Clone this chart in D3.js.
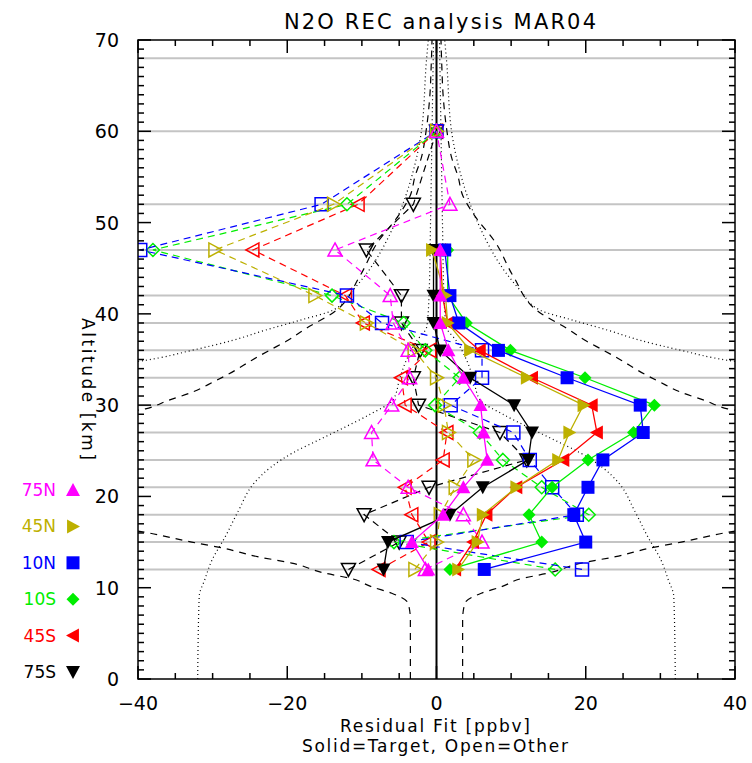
<!DOCTYPE html>
<html>
<head>
<meta charset="utf-8">
<script src="https://cdn.jsdelivr.net/npm/d3@7"></script>
<style>
  body { margin: 0; background: #fff; }
  svg text { font-family: "DejaVu Sans", sans-serif; fill: #000; }
</style>
</head>
<body>
<svg id="chart" width="752" height="763"></svg>
<script>
// retrieval levels [km]
const targetLevels = [12, 15, 18, 21, 24, 27, 30, 33, 36, 39, 42, 47];
const otherLevels  = [12, 15, 18, 21, 24, 27, 30, 33, 36, 39, 42, 47, 52, 60];

// residuals [ppbv], solid = target
const target75N = [-1.1, -3.3, 0.9, 3.6, 6.8, 6.3, 5.9, 3.6, 1.6, 0.5, 0.5, 0.5];
const target45N = [2.9, 5.5, 6.2, 10.7, 16.3, 17.8, 19.7, 12.1, 4.5, 1.5, 1.2, -0.6];
const target10N = [6.4, 20.0, 18.4, 20.3, 22.3, 27.7, 27.3, 17.5, 8.3, 3.0, 1.8, 1.1];
const target10S = [1.8, 14.1, 12.4, 15.5, 20.3, 26.4, 29.2, 19.9, 9.9, 4.0, 1.5, 1.5];
const target45S = [2.5, 4.9, 6.7, 10.7, 17.0, 21.5, 20.8, 12.8, 5.8, 1.5, 0.8, 0.5];
const target75S = [-7.1, -6.5, 1.8, 6.2, 12.3, 12.8, 10.4, 4.5, 0.5, -0.4, -0.4, -0.4];

// open = other
const other75N = [-1.5, 6.1, 3.6, -3.8, -8.5, -8.7, -6.0, -3.6, -3.8, -5.8, -6.2, -13.6, 1.8, 0];
const other45N = [-2.9, 0.0, 0.5, 2.5, 5.0, 1.6, 1.0, 0.0, -3.0, -9.4, -16.3, -29.7, -13.8, 0];
const other10N = [19.5, -4.0, 18.8, 15.5, 12.5, 10.3, 1.9, 6.1, 6.1, -7.3, -12.0, -39.7, -15.4, 0];
const other10S = [15.9, -5.7, 20.4, 14.1, 8.9, 5.8, -0.2, 3.1, -1.5, -4.4, -14.0, -38.0, -12.0, 0];
const other45S = [-7.7, -1.0, -3.3, -4.2, 0.9, 1.4, -4.2, -4.7, -0.9, -9.8, -12.2, -24.6, -10.5, 0];
const other75S = [-11.8, -5.0, -9.7, -1.0, 12.1, 8.5, -2.4, -3.1, -2.2, -4.7, -4.7, -9.4, -3.1, 0];

// error envelopes (drawn +/-)
const dashedAlt = [0, 6.5, 8.3, 9.4, 10.1, 11.0, 11.6, 12.7, 13.4, 14.3, 15.0, 15.8, 17.5, 28.5, 29.6, 30.5, 31.4, 32.5, 33.8, 34.9, 36.0, 37.1, 38.4, 40.1, 44.1, 47.7, 51.0, 53.0, 55.0, 57.2, 60.0, 63.8, 67.4, 70];
const dashedVal = [3.5, 3.5, 3.8, 6.0, 8.7, 11.4, 15.0, 19.4, 24.0, 28.4, 32.8, 37.3, 47, 47, 39, 36, 32.8, 30, 27, 24.8, 22.4, 19.9, 17.5, 13.9, 10.3, 8.0, 4.9, 3.5, 2.9, 2.0, 1.4, 0.9, 0.7, 0.6];
const dotInAlt  = [0, 9, 11, 13, 15.6, 18.5, 21.4, 23.2, 24.8, 26.3, 27.5, 29, 30.6, 33, 35, 37, 38.6, 42, 50, 60, 70];
const dotInVal  = [32, 31.8, 31, 30.1, 28.3, 26.5, 24.5, 22.2, 19.2, 15.5, 12.5, 8.9, 5.8, 4.9, 4.0, 2.7, 1.3, 1.0, 0.8, 0.6, 0.4];
const dotOutAlt = [34, 34.9, 36.0, 37.1, 38.2, 39.3, 40.4, 42.6, 44.5, 49.5, 52.5, 55.7, 60.1, 67.5, 70];
const dotOutVal = [48, 39.1, 32.8, 27.3, 23, 18.3, 13.9, 11.2, 9.3, 5.8, 4.3, 3.1, 2.0, 1.37, 1.1];

const gridLevels = [12, 15, 18, 21, 24, 27, 30, 33, 36, 39, 42, 47, 52, 60, 68];
const xTicks = [-40, -20, 0, 20, 40];
const yTicks = [0, 10, 20, 30, 40, 50, 60, 70];

const series =
  [
    { name: '75S', color: '#000000', shape: 'down',    target: target75S, other: other75S },
    { name: '45S', color: '#ff0000', shape: 'left',    target: target45S, other: other45S },
    { name: '10S', color: '#00ee00', shape: 'diamond', target: target10S, other: other10S },
    { name: '10N', color: '#0000ff', shape: 'square',  target: target10N, other: other10N },
    { name: '45N', color: '#bdb000', shape: 'right',   target: target45N, other: other45N },
    { name: '75N', color: '#ff00ff', shape: 'up',      target: target75N, other: other75N }
  ];

const legendOrder = ['75N', '45N', '10N', '10S', '45S', '75S'];

const box = { left: 138, right: 735, top: 40, bottom: 679 };

const x = d3.scaleLinear().domain([-40, 40]).range([box.left, box.right]);
const y = d3.scaleLinear().domain([0, 70]).range([box.bottom, box.top]);

const svg = d3.select('#chart');

svg.append('defs').append('clipPath').attr('id', 'plot')
  .append('rect')
    .attr('x', box.left)
    .attr('y', box.top)
    .attr('width', box.right - box.left)
    .attr('height', box.bottom - box.top)
;

function marker(shape, r)
{
  const h = r * 0.85;
  switch (shape)
  {
    case 'up':      return `M0,${ -r }L${ r },${ h }L${ -r },${ h }Z`;
    case 'down':    return `M0,${ r }L${ r },${ -h }L${ -r },${ -h }Z`;
    case 'right':   return `M${ r },0L${ -h },${ -r }L${ -h },${ r }Z`;
    case 'left':    return `M${ -r },0L${ h },${ -r }L${ h },${ r }Z`;
    case 'diamond': return `M0,${ -r }L${ r },0L0,${ r }L${ -r },0Z`;
    default:        return `M${ -r },${ -r }H${ r }V${ r }H${ -r }Z`;
  }
}

const size = { up: 7, down: 7, left: 7, right: 7, diamond: 6.5, square: 6.5 };

// grid
svg.append('g')
  .selectAll('line')
  .data(gridLevels)
  .join('line')
    .attr('x1', box.left)
    .attr('x2', box.right)
    .attr('y1', d => y(d))
    .attr('y2', d => y(d))
    .attr('stroke', '#c4c4c4')
    .attr('stroke-width', 2)
;

const plot = svg.append('g').attr('clip-path', 'url(#plot)');

// envelopes
const envelope = (alt, val, sign) => d3.line()
  .x((d, i) => x(sign * val[i]))
  .y(d => y(d))
  .curve(d3.curveMonotoneY)(alt);

[
  { alt: dashedAlt, val: dashedVal, dash: '7,6' },
  { alt: dotInAlt,  val: dotInVal,  dash: '1,3' },
  { alt: dotOutAlt, val: dotOutVal, dash: '1,3' }
].forEach(e =>
{
  [-1, 1].forEach(sign =>
  {
    plot.append('path')
      .attr('d', envelope(e.alt, e.val, sign))
      .attr('fill', 'none')
      .attr('stroke', '#000')
      .attr('stroke-width', 1.2)
      .attr('stroke-dasharray', e.dash)
    ;
  });
});

// zero line
plot.append('line')
  .attr('x1', x(0))
  .attr('x2', x(0))
  .attr('y1', box.top)
  .attr('y2', box.bottom)
  .attr('stroke', '#000')
  .attr('stroke-width', 2)
;

const line = levels => d3.line()
  .x(d => x(d))
  .y((d, i) => y(levels[i]));

// other: dashed lines, open markers
series.forEach(s =>
{
  plot.append('path')
    .attr('d', line(otherLevels)(s.other))
    .attr('fill', 'none')
    .attr('stroke', s.color)
    .attr('stroke-width', 1.2)
    .attr('stroke-dasharray', '7,5')
  ;

  plot.append('g')
    .selectAll('path')
    .data(s.other)
    .join('path')
      .attr('transform', (d, i) => `translate(${ x(d) },${ y(otherLevels[i]) })`)
      .attr('d', marker(s.shape, size[s.shape]))
      .attr('fill', 'none')
      .attr('stroke', s.color)
      .attr('stroke-width', 1.5)
  ;
});

// target: solid lines, filled markers
series.forEach(s =>
{
  plot.append('path')
    .attr('d', line(targetLevels)(s.target))
    .attr('fill', 'none')
    .attr('stroke', s.color)
    .attr('stroke-width', 1.3)
  ;

  plot.append('g')
    .selectAll('path')
    .data(s.target)
    .join('path')
      .attr('transform', (d, i) => `translate(${ x(d) },${ y(targetLevels[i]) })`)
      .attr('d', marker(s.shape, size[s.shape]))
      .attr('fill', s.color)
  ;
});

// axes box and ticks
const axes = svg.append('g').attr('stroke', '#000').attr('stroke-width', 1.5);

axes.append('rect')
  .attr('x', box.left)
  .attr('y', box.top)
  .attr('width', box.right - box.left)
  .attr('height', box.bottom - box.top)
  .attr('fill', 'none')
;

d3.range(-40, 41, 5).forEach(v =>
{
  const len = v % 20 === 0 ? 13 : 6;
  axes.append('line').attr('x1', x(v)).attr('x2', x(v)).attr('y1', box.bottom).attr('y2', box.bottom - len);
  axes.append('line').attr('x1', x(v)).attr('x2', x(v)).attr('y1', box.top).attr('y2', box.top + len);
});

d3.range(0, 71, 1).forEach(v =>
{
  const len = v % 10 === 0 ? 13 : 6;
  axes.append('line').attr('y1', y(v)).attr('y2', y(v)).attr('x1', box.left).attr('x2', box.left + len);
  axes.append('line').attr('y1', y(v)).attr('y2', y(v)).attr('x1', box.right).attr('x2', box.right - len);
});

// tick labels
svg.append('g')
  .selectAll('text')
  .data(xTicks)
  .join('text')
    .text(d => d < 0 ? `\u2212${ -d }` : `${ d }`)
    .attr('x', d => x(d))
    .attr('y', 710)
    .attr('font-size', 19)
    .attr('text-anchor', 'middle')
;

svg.append('g')
  .selectAll('text')
  .data(yTicks)
  .join('text')
    .text(d => d)
    .attr('x', 119)
    .attr('y', d => y(d) + 7)
    .attr('font-size', 19)
    .attr('text-anchor', 'end')
;

// titles
svg.append('text')
  .text('N2O REC analysis MAR04')
  .attr('x', 440)
  .attr('y', 29)
  .attr('font-size', 21)
  .attr('text-anchor', 'middle')
  .attr('textLength', 312)
;

svg.append('text')
  .text('Residual Fit [ppbv]')
  .attr('x', 435)
  .attr('y', 732)
  .attr('font-size', 17)
  .attr('text-anchor', 'middle')
  .attr('textLength', 190)
;

svg.append('text')
  .text('Solid=Target, Open=Other')
  .attr('x', 435)
  .attr('y', 752)
  .attr('font-size', 17)
  .attr('text-anchor', 'middle')
  .attr('textLength', 266)
;

svg.append('text')
  .text('Altitude [km]')
  .attr('transform', 'translate(82, 389) rotate(90)')
  .attr('font-size', 17)
  .attr('text-anchor', 'middle')
  .attr('textLength', 142)
;

// legend
const legend = svg.append('g')
  .selectAll('g')
  .data(legendOrder.map(n => series.find(s => s.name === n)))
  .join('g')
    .attr('transform', (d, i) => `translate(0, ${ 490 + i * 36.4 })`)
;

legend.append('text')
  .text(d => d.name)
  .attr('x', 56)
  .attr('y', 6)
  .attr('font-size', 17)
  .attr('text-anchor', 'end')
  .style('fill', d => d.color)
;

legend.append('path')
  .attr('transform', 'translate(73, 0)')
  .attr('d', d => marker(d.shape, size[d.shape]))
  .attr('fill', d => d.color)
;
</script>
</body>
</html>
